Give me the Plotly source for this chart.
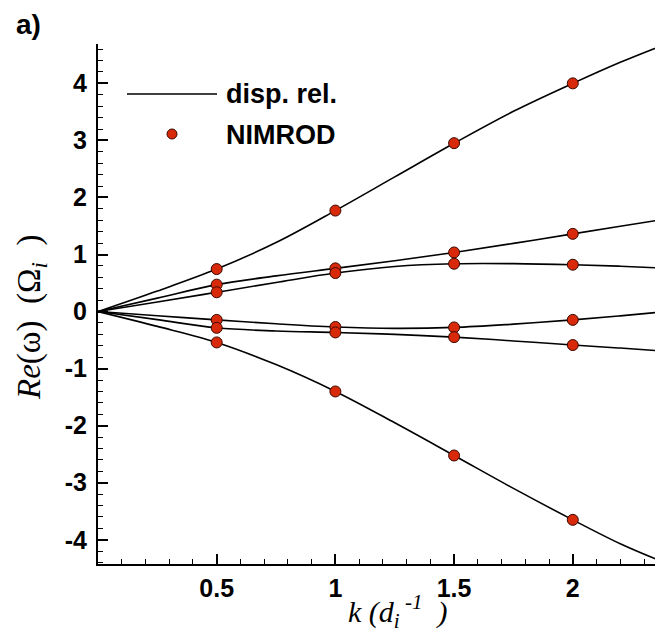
import plotly.graph_objects as go

# ---- data ----
k_curve = [0, 0.25, 0.5, 0.75, 1.0, 1.25, 1.5, 1.75, 2.0, 2.2, 2.38]
curve_A = [0, 0.36, 0.745, 1.21, 1.77, 2.36, 2.95, 3.51, 4.00, 4.37, 4.67]
curve_B = [0, 0.236, 0.472, 0.625, 0.757, 0.89, 1.036, 1.195, 1.362, 1.495, 1.613]
curve_C = [0, 0.169, 0.338, 0.51, 0.675, 0.79, 0.838, 0.84, 0.821, 0.795, 0.763]
curve_D = [0, -0.073, -0.146, -0.215, -0.27, -0.295, -0.278, -0.22, -0.146, -0.075, -0.006]
curve_E = [0, -0.142, -0.285, -0.34, -0.366, -0.40, -0.448, -0.515, -0.587, -0.64, -0.692]
curve_F = [0, -0.26, -0.541, -0.93, -1.401, -1.95, -2.523, -3.10, -3.651, -4.07, -4.39]

k_sim = [0.5, 1.0, 1.5, 2.0]
sim_A = [0.745, 1.77, 2.952, 4.0]
sim_B = [0.472, 0.757, 1.036, 1.362]
sim_C = [0.338, 0.675, 0.838, 0.821]
sim_D = [-0.146, -0.27, -0.278, -0.146]
sim_E = [-0.285, -0.366, -0.448, -0.587]
sim_F = [-0.541, -1.401, -2.523, -3.651]

x_ticks = [0.5, 1, 1.5, 2]
x_ticktext = ["0.5", "1", "1.5", "2"]
y_ticks = [-4, -3, -2, -1, 0, 1, 2, 3, 4]
y_ticktext = ["-4", "-3", "-2", "-1", "0", "1", "2", "3", "4"]

fig = go.Figure()
for c in [curve_A, curve_B, curve_C, curve_D, curve_E, curve_F]:
    fig.add_trace(go.Scatter(x=k_curve, y=c, mode="lines",
                             line=dict(color="black", width=1.6, shape="spline", smoothing=1.0),
                             showlegend=False, hoverinfo="skip"))
for s in [sim_A, sim_B, sim_C, sim_D, sim_E, sim_F]:
    fig.add_trace(go.Scatter(x=k_sim, y=s, mode="markers",
                             marker=dict(color="#d82a0a", size=11,
                                         line=dict(color="#3a0800", width=1)),
                             showlegend=False, hoverinfo="skip", cliponaxis=False))

# page has an 8px body margin; figure coordinates = page coordinates - 8
OFF = 8
W, H = 663 - OFF, 633 - OFF
L, R, T, B = 98 - OFF, 0, 44 - OFF, 69
pw, ph = W - L - R, H - T - B

def px(x):
    return (x - OFF - L) / pw

def py(y):
    return 1 - (y - OFF - T) / ph

tickfont = dict(family="Liberation Sans", size=25, color="black", weight="bold")

fig.update_layout(
    width=W, height=H,
    margin=dict(l=L, r=R, t=T, b=B),
    paper_bgcolor="white", plot_bgcolor="white",
    xaxis=dict(range=[0, 2.38], showgrid=False, zeroline=False,
               showline=True, linecolor="black", linewidth=2,
               ticks="inside", ticklen=10, tickwidth=2, tickcolor="black",
               tickvals=x_ticks, ticktext=x_ticktext, tickfont=tickfont,
               ticklabelstandoff=1,
               minor=dict(dtick=0.1, tick0=0, ticks="inside", ticklen=5, tickwidth=1, tickcolor="black")),
    yaxis=dict(range=[-4.425, 4.69], showgrid=False, zeroline=False,
               showline=True, linecolor="black", linewidth=2,
               ticks="inside", ticklen=10, tickwidth=2, tickcolor="black",
               tickvals=y_ticks, ticktext=y_ticktext, tickfont=tickfont,
               ticklabelstandoff=4,
               minor=dict(dtick=0.2, tick0=0, ticks="inside", ticklen=5, tickwidth=1, tickcolor="black")),
    showlegend=False,
)

# legend drawn manually
fig.add_shape(type="line", xref="paper", yref="paper",
              x0=px(127), x1=px(217), y0=py(94), y1=py(94),
              line=dict(color="black", width=1.6))
fig.add_shape(type="circle", xref="paper", yref="paper",
              xsizemode="pixel", ysizemode="pixel",
              xanchor=px(172), yanchor=py(134),
              x0=-5, x1=5, y0=-5, y1=5,
              fillcolor="#d82a0a", line=dict(color="#3a0800", width=1))

legfont = dict(family="Liberation Sans", size=27, color="black", weight="bold")
fig.add_annotation(xref="paper", yref="paper", x=px(224), y=py(94),
                   xanchor="left", yanchor="middle", text="disp. rel.",
                   showarrow=False, font=legfont)
fig.add_annotation(xref="paper", yref="paper", x=px(224), y=py(135),
                   xanchor="left", yanchor="middle", text="NIMROD",
                   showarrow=False, font=legfont)

# panel label
fig.add_annotation(xref="paper", yref="paper", x=px(14), y=py(25),
                   xanchor="left", yanchor="middle", text="a)",
                   showarrow=False,
                   font=dict(family="Liberation Sans", size=28, color="black", weight="bold"))

# axis titles
fig.add_annotation(xref="paper", yref="paper", x=px(346), y=py(611),
                   xanchor="left", yanchor="middle",
                   text="<i>k</i> <i>(d<sub>i</sub><sup> -1</sup>  )</i>",
                   showarrow=False,
                   font=dict(family="Liberation Serif", size=30, color="black"))
fig.add_annotation(xref="paper", yref="paper", x=px(31), y=py(318),
                   xanchor="center", yanchor="middle", textangle=-90,
                   text="<i>Re</i>(ω)  (Ω<sub><i>i</i></sub>  )",
                   showarrow=False,
                   font=dict(family="Liberation Serif", size=33, color="black"))

fig.write_html("out.html")
